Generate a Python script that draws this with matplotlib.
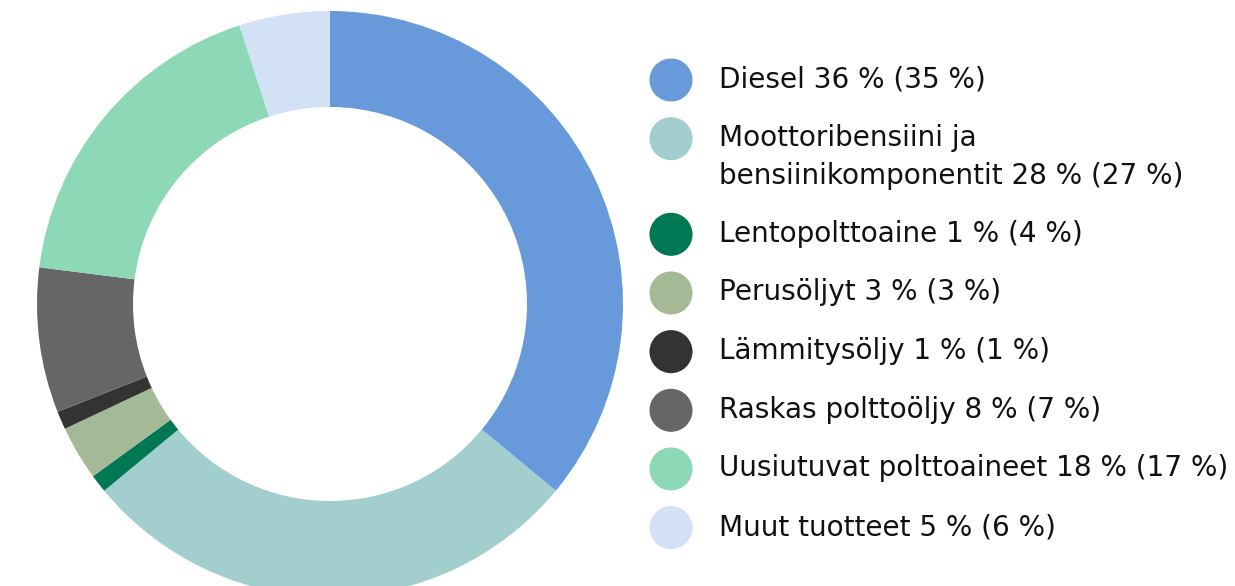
import matplotlib
matplotlib.use("Agg")
import matplotlib.pyplot as plt

labels = ["Diesel 36 % (35 %)",
          "Moottoribensiini ja\nbensiinikomponentit 28 % (27 %)",
          "Lentopolttoaine 1 % (4 %)",
          "Perusöljyt 3 % (3 %)",
          "Lämmitysöljy 1 % (1 %)",
          "Raskas polttoöljy 8 % (7 %)",
          "Uusiutuvat polttoaineet 18 % (17 %)",
          "Muut tuotteet 5 % (6 %)"]
values = [36, 28, 1, 3, 1, 8, 18, 5]
colors = ["#6899DB", "#A2CECE", "#007854", "#A4B996", "#333333", "#666666", "#8DD8B6", "#D3E1F6"]

W, H = 1235, 586
fig = plt.figure(figsize=(W / 100, H / 100), dpi=100)
plt.rcParams['font.family'] = ['DejaVu Sans']

# donut
cx, cy, R = 330, 304, 293
ax = fig.add_axes([(cx - R) / W, (H - cy - R) / H, 2 * R / W, 2 * R / H])
ax.pie(values, colors=colors, startangle=90, counterclock=False, radius=1.0,
       wedgeprops=dict(width=1 - 197 / 293, linewidth=0))
ax.set_xlim(-1, 1)
ax.set_ylim(-1, 1)
ax.set_aspect('equal')
ax.axis('off')

# legend
lax = fig.add_axes([0, 0, 1, 1])
lax.set_xlim(0, W)
lax.set_ylim(H, 0)
lax.axis('off')
y = 77.5
for lab, col in zip(labels, colors):
    lax.scatter([671], [y + 2.5], s=31 ** 2, color=col, edgecolors='none')
    for k, line in enumerate(lab.split("\n")):
        lax.text(719, y + 10 + 38 * k, line, fontsize=20.1, va='baseline', ha='left',
                 color='#111111')
    y += 58.66 + 37 * lab.count("\n")

fig.savefig("out.png", dpi=100)
